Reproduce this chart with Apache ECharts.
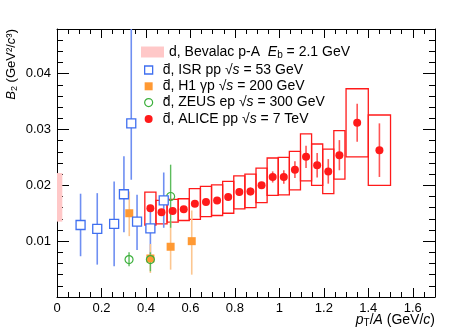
<!DOCTYPE html>
<html>
<head>
<meta charset="utf-8">
<script src="https://cdn.jsdelivr.net/npm/echarts@6/dist/echarts.min.js"></script>
<style>
  html, body { margin: 0; padding: 0; background: #fff; }
  #chart { width: 473px; height: 336px; }
</style>
</head>
<body>
<div id="chart"></div>
<script>
// Bevalac band (x from/to, y from/to)
var bevX = [0, 0.024];
var bevY = [0.0135, 0.0222];

// ISR pp
var isrX  = [0.106, 0.181, 0.257, 0.301, 0.334, 0.360, 0.420, 0.480];
var isrY  = [0.0129, 0.0122, 0.0131, 0.0184, 0.0311, 0.0135, 0.0123, 0.0173];
var isrLo = [0.0073, 0.0058, 0.0055, 0.0116, 0.0210, 0.0084, 0.0067, 0.0124];
var isrHi = [0.0185, 0.0186, 0.0207, 0.0252, 0.0500, 0.0183, 0.0156, 0.0223];

// H1 gamma p
var h1X  = [0.325, 0.420, 0.511, 0.606];
var h1Y  = [0.0150, 0.0069, 0.0090, 0.0100];
var h1Lo = [0.0109, 0.0043, 0.0049, 0.0040];
var h1Hi = [0.0189, 0.0095, 0.0135, 0.0155];

// ZEUS ep
var zeusX  = [0.324, 0.420, 0.511];
var zeusY  = [0.0067, 0.0067, 0.0180];
var zeusLo = [0.0055, 0.0046, 0.0124];
var zeusHi = [0.0080, 0.0080, 0.0237];

// ALICE pp 7 TeV
var aliceX    = [0.42, 0.47, 0.52, 0.57, 0.62, 0.67, 0.72, 0.77, 0.82, 0.87, 0.92, 0.97, 1.02, 1.07, 1.12, 1.17, 1.22, 1.27, 1.35, 1.45];
var aliceXErr = [0.025, 0.025, 0.025, 0.025, 0.025, 0.025, 0.025, 0.025, 0.025, 0.025, 0.025, 0.025, 0.025, 0.025, 0.025, 0.025, 0.025, 0.025, 0.05, 0.05];
var aliceY    = [0.0159, 0.0152, 0.0154, 0.0157, 0.0167, 0.0170, 0.0173, 0.0179, 0.0188, 0.0189, 0.0200, 0.0215, 0.0215, 0.0228, 0.0251, 0.0236, 0.0225, 0.0254, 0.0312, 0.0263];
var aliceStat = [0.0004, 0.0004, 0.0004, 0.0004, 0.0004, 0.0005, 0.0005, 0.0006, 0.0007, 0.0007, 0.0006, 0.0010, 0.0012, 0.0015, 0.0020, 0.0022, 0.0022, 0.0027, 0.0034, 0.0048];
var aliceSysLo = [0.0129, 0.0131, 0.0134, 0.0137, 0.0139, 0.0144, 0.0146, 0.0150, 0.0158, 0.0160, 0.0169, 0.0182, 0.0183, 0.0192, 0.0208, 0.0200, 0.0185, 0.0211, 0.0251, 0.0200];
var aliceSysHi = [0.0188, 0.0173, 0.0175, 0.0176, 0.0194, 0.0198, 0.0201, 0.0207, 0.0217, 0.0220, 0.0231, 0.0249, 0.0250, 0.0261, 0.0292, 0.0274, 0.0265, 0.0298, 0.0373, 0.0326];

var legendText = {
  'Bevalac': 'd, Bevalac p-A  {i|E}{sub|b} = 2.1 GeV',
  'ISR': 'd\u0304, ISR pp \u221A{i|s} = 53 GeV',
  'H1': 'd\u0304, H1 \u03B3p \u221A{i|s} = 200 GeV',
  'ZEUS': 'd\u0304, ZEUS ep \u221A{i|s} = 300 GeV',
  'ALICE': 'd\u0304, ALICE pp \u221A{i|s} = 7 TeV'
};

var FONT = 'Liberation Sans';
var BLUE = '#3f6ff0', ORANGE = '#ff9933', GREEN = '#3cb03c', RED = '#ff1a1a';
var SQUARE = 'path://M0,0L10,0L10,10L0,10Z';
var CIRCLE = 'path://M5,0A5,5,0,1,1,5,10A5,5,0,1,1,5,0Z';

function pts(xs, ys) { return xs.map(function (x, i) { return [x, ys[i]]; }); }
function errs(xs, lo, hi) { return xs.map(function (x, i) { return [x, lo[i], hi[i]]; }); }

function errBar(color, width) {
  return function (params, api) {
    var a = api.coord([api.value(0), api.value(1)]);
    var b = api.coord([api.value(0), api.value(2)]);
    return { type: 'line', shape: { x1: a[0], y1: a[1], x2: b[0], y2: b[1] },
             style: { stroke: color, lineWidth: width } };
  };
}

function boxItem(params, api) {
  var a = api.coord([api.value(0), api.value(3)]);
  var b = api.coord([api.value(1), api.value(2)]);
  return { type: 'rect', shape: { x: a[0], y: a[1], width: b[0] - a[0], height: b[1] - a[1] },
           style: api.value(4) ? { fill: '#ffc8c8', stroke: 'none' } : { fill: 'none', stroke: RED, lineWidth: 1.3 } };
}

function richFor(size) {
  return {
    i: { fontStyle: 'italic', fontFamily: FONT, fontSize: size, color: '#000' },
    sub: { fontFamily: FONT, fontSize: Math.round(size * 0.7), color: '#000', padding: [Math.round(size * 0.45), 0, 0, 0] }
  };
}

// inside:true draws nothing here, so ticks go outside with a negative length (= inward)
function tickStyle(len) {
  return { show: true, inside: false, length: -len, lineStyle: { color: '#000', width: 1, opacity: 1 } };
}
function minorStyle(len, n) {
  return { show: true, length: -len, splitNumber: n, lineStyle: { color: '#000', width: 1, opacity: 1 } };
}

function axis(extra) {
  var o = {
    type: 'value',
    axisLine: { show: true, onZero: false, lineStyle: { color: '#000', width: 1 } },
    splitLine: { show: false },
    minorSplitLine: { show: false }
  };
  for (var k in extra) o[k] = extra[k];
  return o;
}

var myChart = echarts.init(document.getElementById('chart'), null, { renderer: 'canvas' });

var option = {
  animation: false,
  backgroundColor: '#fff',
  textStyle: { fontFamily: FONT },
  grid: { left: 57, right: 38, top: 29, bottom: 39 },
  legend: [
    {
      data: ['Bevalac'],
      left: 141, top: 45, padding: 0,
      itemWidth: 23, itemHeight: 11,
      icon: 'rect',
      itemStyle: { color: '#ffc8c8' },
      formatter: function (n) { return legendText[n]; },
      textStyle: { fontFamily: FONT, fontSize: 14, color: '#000', rich: richFor(14) }
    },
    {
      data: [
        { name: 'ISR', icon: SQUARE, itemStyle: { color: '#fff', borderColor: BLUE, borderWidth: 1.3 } },
        { name: 'H1', icon: SQUARE, itemStyle: { color: ORANGE, borderWidth: 0 } },
        { name: 'ZEUS', icon: CIRCLE, itemStyle: { color: '#fff', borderColor: GREEN, borderWidth: 1.2 } },
        { name: 'ALICE', icon: CIRCLE, itemStyle: { color: RED, borderWidth: 0 } }
      ],
      orient: 'vertical',
      left: 144, top: 62, padding: 0,
      itemWidth: 18, itemHeight: 8, itemGap: 0.3,
      symbolKeepAspect: true,
      formatter: function (n) { return legendText[n]; },
      textStyle: { fontFamily: FONT, fontSize: 14, color: '#000', lineHeight: 16, rich: richFor(14) }
    }
  ],
  graphic: [
    { type: 'text', right: 38, top: 313, z: 10,
      style: { text: '{i|p}{sub|T}/{i|A} (GeV/{i|c})', fontFamily: FONT, fontSize: 14, fill: '#000', rich: richFor(14) } }
  ],
  xAxis: [
    axis({
      min: 0, max: 1.7, interval: 0.2,
      axisTick: tickStyle(9), minorTick: minorStyle(5, 4),
      axisLabel: { color: '#000', fontSize: 13, fontFamily: FONT, margin: 5,
        formatter: function (v) { return v > 1.65 ? '' : String(Math.round(v * 10) / 10); } }
    }),
    axis({
      position: 'top', min: 0, max: 1.7, interval: 0.2,
      axisTick: tickStyle(9), minorTick: minorStyle(5, 4),
      axisLabel: { show: false }
    })
  ],
  yAxis: [
    axis({
      min: 0, max: 0.048, interval: 0.01,
      axisTick: tickStyle(12), minorTick: minorStyle(6, 5),
      axisLabel: { color: '#000', fontSize: 13, fontFamily: FONT, margin: 6,
        formatter: function (v) { return (v > 0.001 && v < 0.045) ? v.toFixed(2) : ''; } },
      name: '{i|B}{sub|2} (GeV\u00B2/{i|c}\u00B3)',
      nameLocation: 'end', nameGap: 0, nameRotate: 90,
      nameTextStyle: { align: 'right', verticalAlign: 'bottom', padding: [0, 0, 38, 0],
        fontFamily: FONT, fontSize: 13, color: '#000', rich: richFor(13) }
    }),
    axis({
      position: 'right', min: 0, max: 0.048, interval: 0.01,
      axisTick: tickStyle(12), minorTick: minorStyle(6, 5),
      axisLabel: { show: false }
    })
  ],
  series: [
    { name: 'Bevalac', type: 'custom', clip: true, renderItem: boxItem,
      itemStyle: { color: '#ffc8c8' },
      data: [[bevX[0], bevX[1], bevY[0], bevY[1], 1]] },
    { name: 'ALICE sys', type: 'custom', clip: true, renderItem: boxItem,
      data: aliceX.map(function (x, i) { return [x - aliceXErr[i], x + aliceXErr[i], aliceSysLo[i], aliceSysHi[i], 0]; }) },
    { name: 'ISR err', type: 'custom', clip: true, renderItem: errBar('#6f8ff2', 1.6), data: errs(isrX, isrLo, isrHi) },
    { name: 'H1 err', type: 'custom', clip: true, renderItem: errBar('#fcc690', 1.6), data: errs(h1X, h1Lo, h1Hi) },
    { name: 'ZEUS err', type: 'custom', clip: true, renderItem: errBar('#5cbc5c', 1.4), data: errs(zeusX, zeusLo, zeusHi) },
    { name: 'ALICE err', type: 'custom', clip: true, renderItem: errBar('#ff5555', 1.6),
      data: aliceX.map(function (x, i) { return [x, aliceY[i] - aliceStat[i], aliceY[i] + aliceStat[i]]; }) },
    { name: 'H1', type: 'scatter', symbol: 'rect', symbolSize: 8,
      itemStyle: { color: ORANGE, opacity: 1 }, data: pts(h1X, h1Y) },
    { name: 'ZEUS', type: 'scatter', symbol: 'circle', symbolSize: 8,
      itemStyle: { color: 'rgba(255,255,255,0)', borderColor: GREEN, borderWidth: 1.2, opacity: 1 }, data: pts(zeusX, zeusY) },
    { name: 'ISR', type: 'scatter', symbol: 'rect', symbolSize: 9,
      itemStyle: { color: '#fff', borderColor: BLUE, borderWidth: 1.3, opacity: 1 }, data: pts(isrX, isrY) },
    { name: 'ALICE', type: 'scatter', symbol: 'circle', symbolSize: 8,
      itemStyle: { color: RED, opacity: 1 }, data: pts(aliceX, aliceY) }
  ]
};

myChart.setOption(option);
</script>
</body>
</html>
